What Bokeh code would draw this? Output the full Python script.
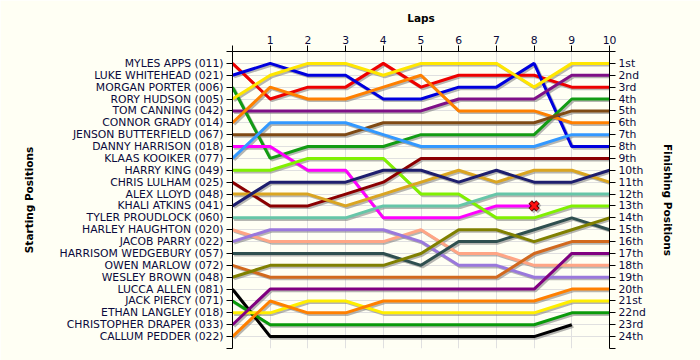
from bokeh.plotting import figure
from bokeh.models import Range1d, LinearAxis, FixedTicker
from bokeh.embed import file_html
from bokeh.resources import INLINE

laps = list(range(11))
lap_labels = ["", "1", "2", "3", "4", "5", "6", "7", "8", "9", "10"]

drivers = [
    "MYLES APPS (011)", "LUKE WHITEHEAD (021)", "MORGAN PORTER (006)", "RORY HUDSON (005)",
    "TOM CANNING (042)", "CONNOR GRADY (014)", "JENSON BUTTERFIELD (067)", "DANNY HARRISON (018)",
    "KLAAS KOOIKER (077)", "HARRY KING (049)", "CHRIS LULHAM (025)", "ALEX LLOYD (048)",
    "KHALI ATKINS (041)", "TYLER PROUDLOCK (060)", "HARLEY HAUGHTON (020)", "JACOB PARRY (022)",
    "HARRISOM WEDGEBURY (057)", "OWEN MARLOW (072)", "WESLEY BROWN (048)", "LUCCA ALLEN (081)",
    "JACK PIERCY (071)", "ETHAN LANGLEY (018)", "CHRISTOPHER DRAPER (033)", "CALLUM PEDDER (022)",
]
finish_labels = ["1st", "2nd", "3rd", "4th", "5th", "6th", "7th", "8th", "9th", "10th", "11th", "12th",
                 "13th", "14th", "15th", "16th", "17th", "18th", "19th", "20th", "21st", "22nd", "23rd", "24th"]

myles = [1, 4, 3, 3, 1, 3, 2, 2, 2, 3, 3]
luke = [2, 1, 2, 2, 4, 4, 3, 3, 1, 8, 8]
morgan = [3, 9, 8, 8, 8, 7, 7, 7, 7, 4, 4]
rory = [4, 2, 1, 1, 2, 1, 1, 1, 3, 1, 1]
tom = [5, 5, 5, 5, 5, 5, 4, 4, 4, 2, 2]
connor = [6, 3, 4, 4, 3, 2, 5, 5, 5, 6, 6]
jenson = [7, 7, 7, 7, 6, 6, 6, 6, 6, 5, 5]
danny = [8, 8, 10, 10, 14, 14, 14, 13, 13]
klaas = [9, 6, 6, 6, 7, 8, 8, 8, 8, 7, 7]
harry = [10, 10, 9, 9, 9, 12, 12, 14, 14, 13, 13]
chris = [11, 13, 13, 12, 11, 9, 9, 9, 9, 9, 9]
alex = [12, 12, 12, 13, 12, 11, 10, 11, 10, 10, 11]
khali = [13, 11, 11, 11, 10, 10, 11, 10, 11, 11, 10]
tyler = [14, 14, 14, 14, 13, 13, 13, 12, 12, 12, 12]
harley = [15, 16, 16, 16, 16, 15, 17, 17, 18, 18, 18]
jacob = [16, 15, 15, 15, 15, 16, 18, 18, 19, 19, 19]
harrisom = [17, 17, 17, 17, 17, 18, 16, 16, 15, 14, 15]
owen = [18, 19, 19, 19, 19, 19, 19, 19, 17, 16, 16]
wesley = [19, 18, 18, 18, 18, 17, 15, 15, 16, 15, 14]
lucca = [20, 24, 24, 24, 24, 24, 24, 24, 24, 23]
jack = [21, 23, 23, 23, 23, 23, 23, 23, 23, 22, 22]
ethan = [22, 22, 21, 21, 22, 22, 22, 22, 22, 21, 21]
christopher = [23, 20, 20, 20, 20, 20, 20, 20, 20, 17, 17]
callum = [24, 21, 22, 22, 21, 21, 21, 21, 21, 20, 20]

series = [myles, luke, morgan, rory, tom, connor, jenson, danny, klaas, harry, chris, alex,
          khali, tyler, harley, jacob, harrisom, owen, wesley, lucca, jack, ethan, christopher, callum]
colors = ["#EE0000", "#0000DD", "#139C13", "#FFE600", "#7F1087", "#FF8000", "#7F4A14", "#FF00FF",
          "#3399FF", "#80F000", "#8B0000", "#DAA520", "#1E1E6E", "#66C6A8", "#FFA585", "#9A78DC",
          "#2F4F4F", "#D2691E", "#808000", "#000000", "#0A9A0A", "#FFEE00", "#800080", "#FF8000"]

# retired: Danny Harrison after lap 8
dnf_lap = [8]
dnf_pos = [13]

BG = "#FFFFF4"
TICK_FONT = "DejaVu Sans"
TICK_SIZE = "10.8px"
TICK_COLOR = "#0A0A3C"

p = figure(width=700, height=360, output_backend="svg", toolbar_location=None,
           x_range=Range1d(0, 10), y_range=Range1d(25, 0),
           x_axis_location="above", y_axis_location="left",
           min_border_left=232, min_border_right=91, min_border_top=51, min_border_bottom=12)
p.background_fill_color = BG
p.border_fill_color = BG
p.outline_line_color = None

# grid
p.xgrid.ticker = FixedTicker(ticks=laps)
p.ygrid.ticker = FixedTicker(ticks=list(range(1, 25)))
p.xgrid.grid_line_color = "#E0E0E0"
p.ygrid.grid_line_color = "#E0E0E0"


def style_axis(ax):
    ax.axis_line_color = "black"
    ax.major_tick_line_color = "black"
    ax.major_tick_out = 6
    ax.major_tick_in = 0
    ax.minor_tick_line_color = None
    ax.major_label_text_font = TICK_FONT
    ax.major_label_text_font_size = TICK_SIZE
    ax.major_label_text_color = TICK_COLOR
    ax.major_label_standoff = 3
    ax.axis_label_text_font = "DejaVu Sans"
    ax.axis_label_text_font_style = "bold"
    ax.axis_label_text_font_size = "10.5px"
    ax.axis_label_text_color = "black"


# top axis (laps)
xax = p.xaxis[0]
style_axis(xax)
xax.ticker = FixedTicker(ticks=laps)
xax.major_label_overrides = {lap: lab for lap, lab in zip(laps, lap_labels)}
xax.axis_label = "Laps"
xax.major_label_standoff = 2
xax.axis_label_standoff = 9

# left axis (starting positions)
yticks = list(range(0, 26))
yax = p.yaxis[0]
style_axis(yax)
yax.ticker = FixedTicker(ticks=yticks)
left_over = {0: "", 25: ""}
for i, name in enumerate(drivers):
    left_over[i + 1] = name
yax.major_label_overrides = left_over
yax.axis_label = "Starting Positions"
yax.axis_label_standoff = 22

# right axis (finishing positions)
rax = LinearAxis()
style_axis(rax)
rax.ticker = FixedTicker(ticks=yticks)
right_over = {0: "", 25: ""}
for i, lab in enumerate(finish_labels):
    right_over[i + 1] = lab
rax.major_label_overrides = right_over
rax.axis_label = "Finishing Positions"
rax.axis_label_standoff = 13
p.add_layout(rax, "right")

# shadows (offset ~1.6px right/down)
dx = 1.6 * 10 / 377
dy = 1.6 * 25 / 297
for pos in series:
    xs = [l + dx for l in laps[:len(pos)]]
    ys = [v + dy for v in pos]
    p.line(xs, ys, line_color="#7A7A7A", line_alpha=0.55, line_width=3)

for pos, col in zip(series, colors):
    p.line(laps[:len(pos)], pos, line_color=col, line_width=3)

# retirement marker
p.scatter([l + dx for l in dnf_lap], [v + dy for v in dnf_pos], marker="x", size=11,
          line_color="#777777", line_alpha=0.5, line_width=5)
p.scatter(dnf_lap, dnf_pos, marker="x", size=11, line_color="#550000", line_width=5)
p.scatter(dnf_lap, dnf_pos, marker="x", size=10, line_color="#FF1010", line_width=3)

open("out.html", "w").write(file_html(p, INLINE))
